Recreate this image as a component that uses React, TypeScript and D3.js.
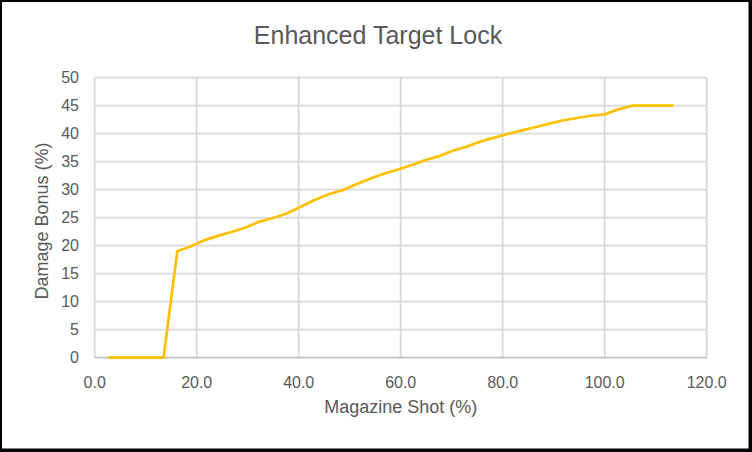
import React, { useEffect, useRef } from 'react';
import * as d3 from 'd3';

// magazine shot (%) for each shot of a 37 round mag
const shotPct = [
  2.7, 5.4, 8.1, 10.8, 13.5, 16.2, 18.9, 21.6, 24.3, 27.0, 29.7, 32.4, 35.1,
  37.8, 40.5, 43.2, 45.9, 48.6, 51.4, 54.1, 56.8, 59.5, 62.2, 64.9, 67.6, 70.3,
  73.0, 75.7, 78.4, 81.1, 83.8, 86.5, 89.2, 91.9, 94.6, 97.3, 100.0, 102.7,
  105.4, 108.1, 110.8, 113.5,
];

const damageBonus = [
  0, 0, 0, 0, 0, 19.0, 19.9, 21.0, 21.8, 22.5, 23.3, 24.3, 25.0, 25.8, 27.0,
  28.2, 29.2, 29.9, 31.0, 32.0, 32.9, 33.6, 34.4, 35.3, 36.0, 37.0, 37.7, 38.6,
  39.3, 40.0, 40.6, 41.2, 41.8, 42.4, 42.8, 43.2, 43.45, 44.35, 45, 45, 45, 45,
];

const xTicks = [0, 20, 40, 60, 80, 100, 120];
const yTicks = [0, 5, 10, 15, 20, 25, 30, 35, 40, 45, 50];

const W = 752;
const H = 452;
const font = '"Liberation Sans", Arial, sans-serif';

export default function App() {
  const ref = useRef<SVGSVGElement>(null);

  useEffect(() => {
    const svg = d3.select(ref.current);
    svg.selectAll('*').remove();

    // chart border
    svg.append('rect').attr('width', W).attr('height', H).attr('fill', '#000');
    svg
      .append('rect')
      .attr('x', 2)
      .attr('y', 2)
      .attr('width', W - 5.5)
      .attr('height', H - 5.5)
      .attr('fill', '#fff');

    const x = d3.scaleLinear().domain([0, 120]).range([94.7, 706.7]);
    const y = d3.scaleLinear().domain([0, 50]).range([357.7, 77.7]);

    const grid = svg.append('g').attr('stroke', '#d9d9d9').attr('stroke-width', 1.8);
    grid
      .selectAll('line.h')
      .data(yTicks.filter((d) => d > 0))
      .enter()
      .append('line')
      .attr('x1', x(0))
      .attr('x2', x(120))
      .attr('y1', (d) => y(d))
      .attr('y2', (d) => y(d));
    grid
      .selectAll('line.v')
      .data(xTicks)
      .enter()
      .append('line')
      .attr('x1', (d) => x(d))
      .attr('x2', (d) => x(d))
      .attr('y1', y(50))
      .attr('y2', y(0));

    // x axis line
    svg
      .append('line')
      .attr('x1', x(0))
      .attr('x2', x(120))
      .attr('y1', y(0))
      .attr('y2', y(0))
      .attr('stroke', '#bfbfbf')
      .attr('stroke-width', 1.8);

    svg
      .append('g')
      .selectAll('text')
      .data(xTicks)
      .enter()
      .append('text')
      .attr('x', (d) => x(d))
      .attr('y', 388)
      .attr('text-anchor', 'middle')
      .attr('font-family', font)
      .attr('font-size', 16)
      .attr('fill', '#595959')
      .text((d) => d3.format('.1f')(d));

    svg
      .append('g')
      .selectAll('text')
      .data(yTicks)
      .enter()
      .append('text')
      .attr('x', 79)
      .attr('y', (d) => y(d) + 5.5)
      .attr('text-anchor', 'end')
      .attr('font-family', font)
      .attr('font-size', 16)
      .attr('fill', '#595959')
      .text((d) => d);

    const line = d3
      .line<number>()
      .x((d, i) => x(shotPct[i]))
      .y((d) => y(d));

    svg
      .append('path')
      .datum(damageBonus)
      .attr('d', line)
      .attr('fill', 'none')
      .attr('stroke', '#ffc000')
      .attr('stroke-width', 2.7)
      .attr('stroke-linejoin', 'round');

    // titles
    svg
      .append('text')
      .attr('x', 378)
      .attr('y', 44.3)
      .attr('text-anchor', 'middle')
      .attr('font-family', font)
      .attr('font-size', 25)
      .attr('fill', '#595959')
      .text('Enhanced Target Lock');

    svg
      .append('text')
      .attr('x', 400.7)
      .attr('y', 413.3)
      .attr('text-anchor', 'middle')
      .attr('font-family', font)
      .attr('font-size', 18)
      .attr('fill', '#595959')
      .text('Magazine Shot (%)');

    svg
      .append('text')
      .attr('transform', 'translate(47.5,221) rotate(-90)')
      .attr('text-anchor', 'middle')
      .attr('font-family', font)
      .attr('font-size', 18)
      .attr('fill', '#595959')
      .text('Damage Bonus (%)');
  }, []);

  return (
    <svg
      ref={ref}
      width={W}
      height={H}
      style={{ position: 'absolute', left: 0, top: 0 }}
    />
  );
}
